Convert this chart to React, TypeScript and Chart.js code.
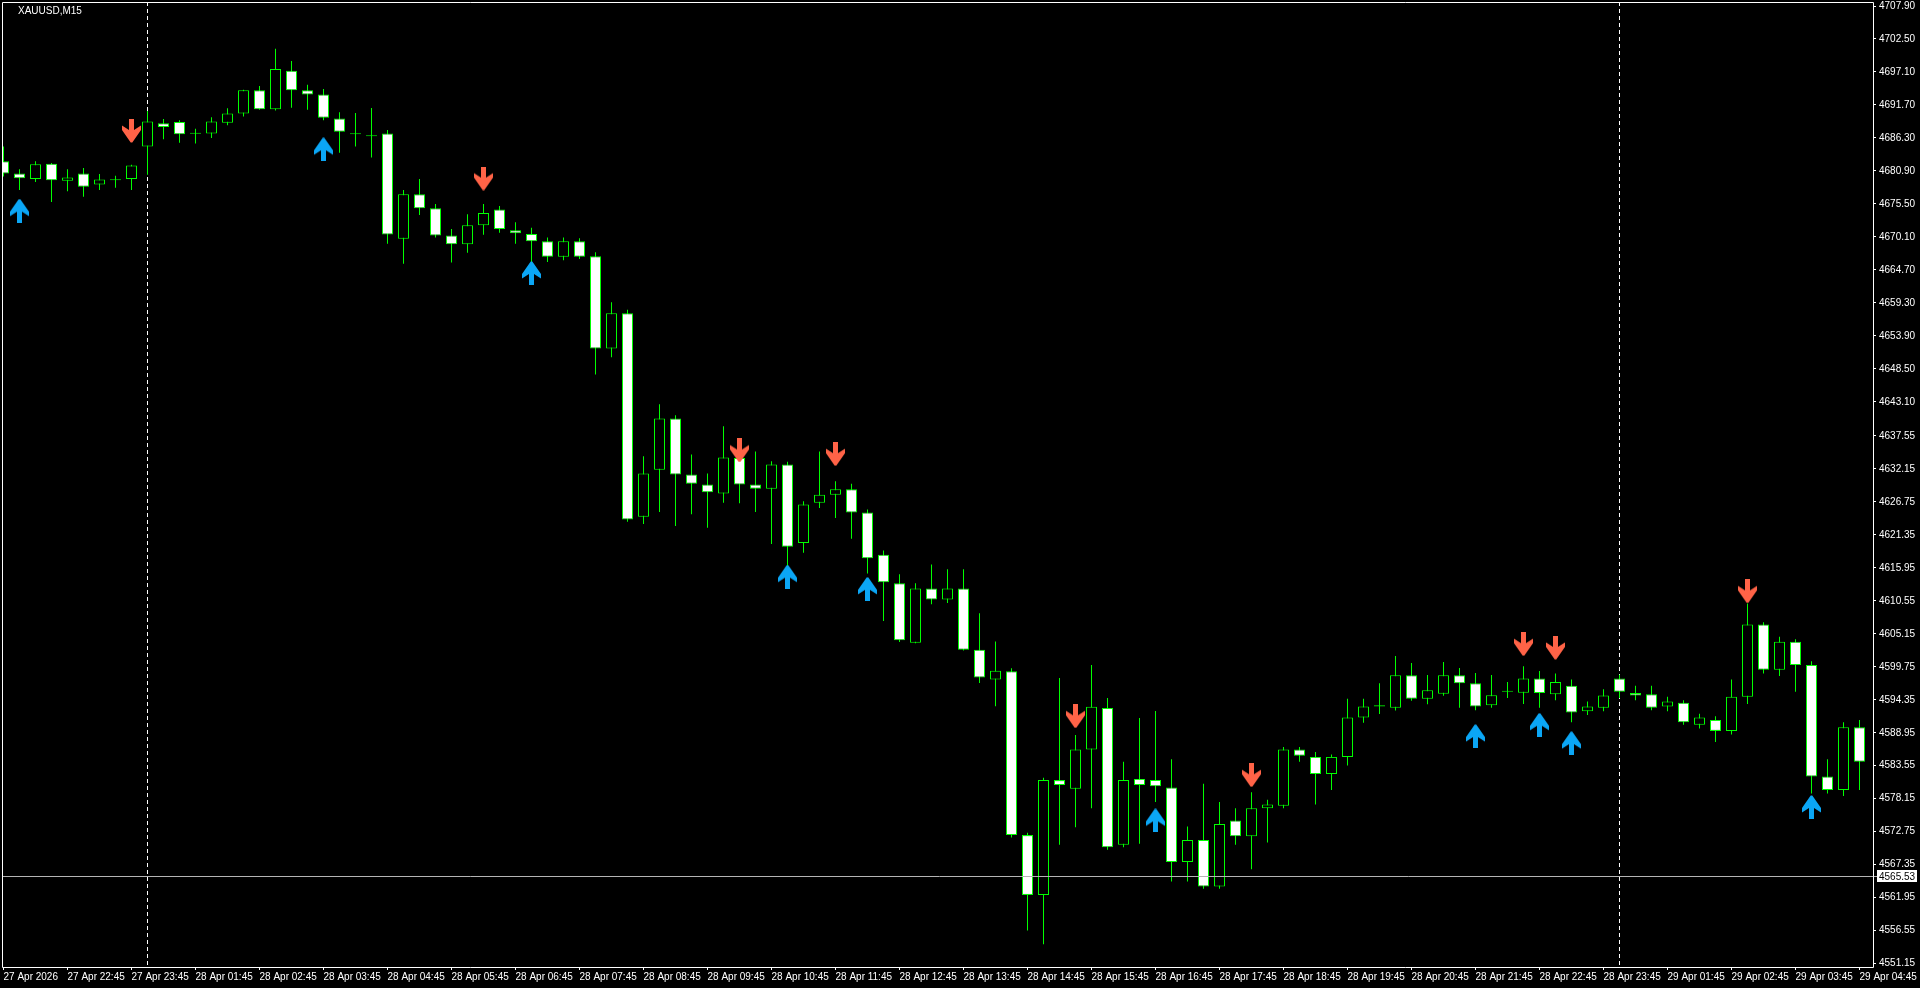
import React, { useEffect, useRef } from 'react';
import { Chart, registerables } from 'chart.js';

Chart.register(...registerables);

const symbolTitle = 'XAUUSD,M15';

// OHLC per 15-minute bar (bar index 0 = 27 Apr 21:45 ... 116 = 29 Apr 04:45)
const opens = [
  4682.5, 4680.5, 4679.6, 4682.1, 4679.3, 4680.5, 4678.7, 4679.4, 4679.6, 4684.9,
  4688.7, 4688.9, 4687.0, 4687.05, 4688.8, 4690.3, 4694.1, 4691.0, 4697.3, 4694.1,
  4693.4, 4689.5, 4686.9, 4686.6, 4687.05, 4669.8, 4677.1, 4674.8, 4670.35, 4668.9,
  4672.0, 4674.6, 4671.2, 4670.6, 4669.4, 4666.85, 4669.4, 4666.95, 4651.85, 4657.6,
  4624.3, 4632.0, 4640.4, 4631.2, 4629.6, 4628.1, 4633.9, 4629.6, 4628.9, 4632.85,
  4620.0, 4626.6, 4627.9, 4628.8, 4625.0, 4618.1, 4613.4, 4603.7, 4612.55, 4610.75,
  4612.55, 4602.55, 4597.65, 4599.0, 4572.2, 4562.4, 4581.2, 4579.8, 4586.2, 4593.0,
  4570.6, 4581.4, 4581.2, 4580.0, 4567.8, 4571.4, 4563.8, 4574.6, 4572.0, 4576.6,
  4577.0, 4586.2, 4585.0, 4582.2, 4585.0, 4591.45, 4593.25, 4593.05, 4598.35, 4594.5,
  4595.35, 4598.35, 4597.05, 4593.45, 4595.65, 4595.5, 4597.85, 4595.25, 4596.65, 4592.45,
  4593.05, 4597.85, 4595.45, 4595.25, 4593.25, 4593.85, 4590.25, 4591.05, 4589.25, 4594.85,
  4606.65, 4599.25, 4603.85, 4600.05, 4581.8, 4579.6, 4589.85,
];

const highs = [
  4684.9, 4681.2, 4682.5, 4682.2, 4681.2, 4681.4, 4680.4, 4680.1, 4681.9, 4690.7,
  4689.4, 4689.2, 4687.8, 4689.7, 4691.15, 4694.2, 4694.8, 4700.9, 4698.9, 4695.0,
  4694.3, 4690.5, 4690.4, 4691.2, 4687.6, 4677.8, 4679.6, 4675.5, 4671.4, 4673.8,
  4675.5, 4675.15, 4672.5, 4671.6, 4670.0, 4670.0, 4669.9, 4667.6, 4659.4, 4658.2,
  4634.2, 4642.7, 4640.9, 4634.5, 4631.4, 4639.1, 4634.4, 4635.0, 4633.4, 4633.3,
  4626.85, 4635.0, 4630.1, 4629.7, 4625.5, 4618.8, 4614.9, 4613.4, 4616.5, 4615.7,
  4615.7, 4608.5, 4603.9, 4599.5, 4572.6, 4581.6, 4597.9, 4588.6, 4600.05, 4594.65,
  4584.2, 4591.35, 4592.5, 4584.6, 4573.6, 4580.6, 4577.6, 4576.6, 4579.2, 4578.0,
  4586.6, 4586.6, 4585.8, 4585.4, 4594.5, 4594.5, 4597.05, 4601.5, 4600.35, 4598.4,
  4600.55, 4599.55, 4598.75, 4598.4, 4597.25, 4599.85, 4599.05, 4598.65, 4597.65, 4594.05,
  4596.05, 4598.45, 4596.65, 4596.65, 4594.85, 4594.25, 4592.05, 4591.65, 4597.65, 4610.1,
  4607.05, 4604.65, 4604.25, 4600.65, 4584.6, 4590.65, 4591.05,
];

const lows = [
  4680.0, 4677.8, 4679.1, 4675.8, 4677.6, 4676.7, 4677.8, 4678.15, 4677.8, 4680.3,
  4686.1, 4685.5, 4685.4, 4686.3, 4688.4, 4689.8, 4690.9, 4690.8, 4691.25, 4690.9,
  4689.2, 4683.9, 4684.9, 4683.1, 4669.0, 4665.7, 4673.7, 4670.0, 4665.9, 4667.5,
  4670.45, 4670.8, 4669.0, 4665.9, 4666.0, 4666.3, 4666.5, 4647.6, 4650.4, 4623.5,
  4623.1, 4625.1, 4622.8, 4624.7, 4622.5, 4626.6, 4626.5, 4625.1, 4619.85, 4616.1,
  4618.4, 4625.75, 4624.1, 4620.7, 4615.0, 4607.25, 4603.8, 4603.6, 4610.0, 4610.2,
  4602.4, 4597.1, 4593.3, 4571.8, 4556.6, 4554.35, 4570.6, 4573.5, 4576.6, 4569.8,
  4570.2, 4570.8, 4577.6, 4564.6, 4564.6, 4563.4, 4563.4, 4570.6, 4566.6, 4571.0,
  4576.6, 4584.2, 4577.2, 4579.6, 4583.6, 4590.6, 4592.0, 4592.6, 4594.2, 4593.6,
  4595.0, 4593.05, 4592.65, 4593.05, 4594.65, 4593.65, 4593.05, 4594.25, 4590.65, 4591.85,
  4592.45, 4594.65, 4594.25, 4592.65, 4592.45, 4590.25, 4589.65, 4587.45, 4588.65, 4593.65,
  4598.65, 4598.25, 4595.65, 4579.0, 4579.0, 4578.6, 4579.6,
];

const closes = [
  4680.5, 4679.7, 4682.0, 4679.4, 4679.85, 4678.3, 4679.5, 4679.5, 4681.8, 4689.0,
  4688.1, 4686.9, 4687.1, 4689.0, 4690.3, 4694.1, 4691.0, 4697.6, 4694.1, 4693.4,
  4689.6, 4687.3, 4686.95, 4686.75, 4670.5, 4677.1, 4674.8, 4670.35, 4668.9, 4672.0,
  4674.0, 4671.4, 4670.7, 4669.4, 4666.85, 4669.4, 4666.85, 4651.85, 4657.6, 4623.85,
  4631.4, 4640.4, 4631.2, 4629.7, 4628.3, 4634.0, 4629.6, 4628.9, 4632.85, 4619.4,
  4626.3, 4627.9, 4628.8, 4625.0, 4617.5, 4613.6, 4604.1, 4612.55, 4610.75, 4612.55,
  4602.55, 4598.0, 4599.1, 4572.2, 4562.4, 4581.2, 4580.4, 4586.2, 4593.2, 4570.2,
  4581.2, 4580.4, 4580.2, 4567.8, 4571.4, 4563.8, 4574.0, 4572.0, 4576.6, 4577.2,
  4586.2, 4585.2, 4582.2, 4585.0, 4591.45, 4593.25, 4593.45, 4598.35, 4594.5, 4595.9,
  4598.35, 4597.05, 4593.25, 4595.1, 4595.7, 4597.85, 4595.45, 4597.25, 4592.25, 4593.25,
  4595.05, 4595.65, 4595.05, 4593.05, 4594.05, 4590.65, 4591.45, 4589.25, 4594.85, 4606.65,
  4599.25, 4603.85, 4600.05, 4581.8, 4579.6, 4589.85, 4584.2,
];

// Time axis labels (bar index -> text)
const timeTickIdx = [
  0, 4, 8, 12, 16, 20, 24, 28, 32, 36, 40, 44, 48, 52, 56, 60, 64, 68, 72, 76,
  80, 84, 88, 92, 96, 100, 104, 108, 112, 116,
];
const timeTickLabels = [
  '27 Apr 2026', '27 Apr 22:45', '27 Apr 23:45', '28 Apr 01:45', '28 Apr 02:45',
  '28 Apr 03:45', '28 Apr 04:45', '28 Apr 05:45', '28 Apr 06:45', '28 Apr 07:45',
  '28 Apr 08:45', '28 Apr 09:45', '28 Apr 10:45', '28 Apr 11:45', '28 Apr 12:45',
  '28 Apr 13:45', '28 Apr 14:45', '28 Apr 15:45', '28 Apr 16:45', '28 Apr 17:45',
  '28 Apr 18:45', '28 Apr 19:45', '28 Apr 20:45', '28 Apr 21:45', '28 Apr 22:45',
  '28 Apr 23:45', '29 Apr 01:45', '29 Apr 02:45', '29 Apr 03:45', '29 Apr 04:45',
];

// Price axis labels
const priceTicks = [
  4707.9, 4702.5, 4697.1, 4691.7, 4686.3, 4680.9, 4675.5, 4670.1, 4664.7, 4659.3,
  4653.9, 4648.5, 4643.1, 4637.55, 4632.15, 4626.75, 4621.35, 4615.95, 4610.55, 4605.15,
  4599.75, 4594.35, 4588.95, 4583.55, 4578.15, 4572.75, 4567.35, 4561.95, 4556.55, 4551.15,
];

// Signal arrows
const upArrowIdx = [1, 20, 33, 49, 54, 72, 92, 96, 98, 113];
const upArrowPrice = [4674.4, 4684.45, 4664.2, 4614.5, 4612.5, 4574.6, 4588.4, 4590.25, 4587.25, 4576.8];
const downArrowIdx = [8, 30, 46, 52, 67, 78, 95, 97, 109];
const downArrowPrice = [4687.45, 4679.65, 4635.15, 4634.55, 4591.65, 4582.0, 4603.45, 4602.85, 4612.1];

// Day separators (first bar of a new day) and horizontal price line
const daySeparatorIdx = [9, 101];
const markerLinePrice = 4565.53;

const FONT = "'Liberation Sans', Arial, sans-serif";
const GREEN = '#00ff00';

function makeArrow(color: string, up: boolean): HTMLCanvasElement {
  const c = document.createElement('canvas');
  c.width = 19;
  c.height = 24;
  const g = c.getContext('2d') as CanvasRenderingContext2D;
  const pts = [
    [7, 0], [12, 0], [12, 11], [19, 6.5], [19, 11], [10.3, 23.5],
    [8.7, 23.5], [0, 11], [0, 6.5], [7, 11],
  ];
  g.fillStyle = color;
  g.beginPath();
  pts.forEach(([px, py], i) => {
    const yy = up ? 24 - py : py;
    if (i === 0) g.moveTo(px, yy);
    else g.lineTo(px, yy);
  });
  g.closePath();
  g.fill();
  return c;
}

export default function App() {
  const canvasRef = useRef<HTMLCanvasElement | null>(null);

  useEffect(() => {
    const canvas = canvasRef.current;
    if (!canvas) return;

    const upImg = makeArrow('#0ba6f5', true);
    const downImg = makeArrow('#ff6347', false);

    const bodies = opens.map((o, i) => ({ x: i, y: [o, closes[i]] }));
    const bodyColors = opens.map((o, i) => (closes[i] > o ? '#000000' : '#ffffff'));
    const wicks = lows.map((l, i) => ({ x: i, y: [l, highs[i]] }));
    const ups = upArrowIdx.map((k, i) => ({ x: k, y: upArrowPrice[i] }));
    const downs = downArrowIdx.map((k, i) => ({ x: k, y: downArrowPrice[i] }));

    const mt4Plugin = {
      id: 'mt4Overlay',
      beforeDraw(chart: any) {
        const { ctx, width, height } = chart;
        ctx.save();
        ctx.fillStyle = '#000000';
        ctx.fillRect(0, 0, width, height);
        ctx.restore();
      },
      beforeDatasetsDraw(chart: any) {
        const { ctx, chartArea, scales } = chart;
        const { left, right, top, bottom } = chartArea;
        ctx.save();
        ctx.beginPath();
        ctx.rect(left, top, right - left, bottom - top);
        ctx.clip();
        ctx.strokeStyle = '#ffffff';
        ctx.lineWidth = 1;
        ctx.setLineDash([4, 3]);
        daySeparatorIdx.forEach((k) => {
          const px = Math.round(scales.x.getPixelForValue(k) - 0.5) + 0.5;
          ctx.beginPath();
          ctx.moveTo(px, top);
          ctx.lineTo(px, bottom);
          ctx.stroke();
        });
        ctx.restore();
      },
      afterDatasetsDraw(chart: any) {
        const { ctx, chartArea, scales } = chart;
        const { left, right } = chartArea;
        const py = Math.round(scales.y.getPixelForValue(markerLinePrice)) + 0.5;
        ctx.save();
        ctx.strokeStyle = '#b4b4b4';
        ctx.lineWidth = 1;
        ctx.beginPath();
        ctx.moveTo(left, py);
        ctx.lineTo(right + 4, py);
        ctx.stroke();
        ctx.restore();
      },
      afterDraw(chart: any) {
        const { ctx, chartArea, scales } = chart;
        const { left, right, top, bottom } = chartArea;
        ctx.save();
        // frame
        ctx.strokeStyle = '#ffffff';
        ctx.lineWidth = 1;
        ctx.beginPath();
        ctx.moveTo(left + 0.5, top + 0.5);
        ctx.lineTo(right + 0.5, top + 0.5);
        ctx.lineTo(right + 0.5, bottom + 0.5);
        ctx.lineTo(left + 0.5, bottom + 0.5);
        ctx.closePath();
        ctx.stroke();
        // title
        ctx.fillStyle = '#ffffff';
        ctx.font = `10px ${FONT}`;
        ctx.textBaseline = 'middle';
        ctx.textAlign = 'left';
        ctx.fillText(symbolTitle, left + 16, top + 9);
        // price label box
        const py = Math.round(scales.y.getPixelForValue(markerLinePrice)) + 0.5;
        ctx.fillStyle = '#ffffff';
        ctx.fillRect(right + 4, Math.round(py - 6.5), 40, 12);
        ctx.fillStyle = '#000000';
        ctx.fillText(markerLinePrice.toFixed(2), right + 6, py + 0.5);
        ctx.restore();
      },
    };

    const chart = new Chart(canvas, {
      type: 'bar',
      data: {
        datasets: [
          {
            type: 'scatter',
            label: 'Buy',
            data: ups,
            pointStyle: upImg,
            pointRadius: 10,
            order: -2,
          } as any,
          {
            type: 'scatter',
            label: 'Sell',
            data: downs,
            pointStyle: downImg,
            pointRadius: 10,
            order: -1,
          } as any,
          {
            type: 'bar',
            label: 'Body',
            data: bodies,
            backgroundColor: bodyColors,
            borderColor: GREEN,
            borderWidth: 1,
            borderSkipped: false,
            barThickness: 11,
            grouped: false,
            inflateAmount: 0,
            minBarLength: 1,
            order: 1,
          } as any,
          {
            type: 'bar',
            label: 'Wick',
            data: wicks,
            backgroundColor: GREEN,
            borderWidth: 0,
            barThickness: 1,
            grouped: false,
            inflateAmount: 0,
            minBarLength: 1,
            order: 2,
          } as any,
        ],
      },
      options: {
        responsive: false,
        animation: false,
        devicePixelRatio: 1,
        events: [],
        layout: { autoPadding: false, padding: { left: 2, top: 2, right: 0, bottom: 0 } },
        plugins: {
          legend: { display: false },
          tooltip: { enabled: false },
        },
        scales: {
          x: {
            type: 'linear',
            position: 'bottom',
            min: (2 - 3.5) / 16,
            max: (1873 - 3.5) / 16,
            offset: false,
            afterBuildTicks: (axis: any) => {
              axis.ticks = timeTickIdx.map((v) => ({ value: v }));
            },
            afterFit: (axis: any) => {
              axis.height = 21;
              axis.paddingLeft = 0;
              axis.paddingRight = 0;
            },
            ticks: {
              autoSkip: false,
              maxRotation: 0,
              minRotation: 0,
              align: 'start',
              padding: 1,
              color: '#ffffff',
              font: { family: FONT, size: 10 },
              callback: (v: any) => {
                const i = timeTickIdx.indexOf(Number(v));
                return i >= 0 ? timeTickLabels[i] : '';
              },
            },
            grid: {
              display: true,
              offset: false,
              drawOnChartArea: false,
              drawTicks: true,
              tickLength: 3,
              color: '#ffffff',
            },
            border: { display: false },
          } as any,
          y: {
            type: 'linear',
            position: 'right',
            min: 4550.61,
            max: 4708.555,
            beginAtZero: false,
            afterBuildTicks: (axis: any) => {
              axis.ticks = priceTicks.map((v) => ({ value: v }));
            },
            afterFit: (axis: any) => {
              axis.width = 47;
              axis.paddingTop = 0;
              axis.paddingBottom = 0;
            },
            ticks: {
              autoSkip: false,
              padding: 3,
              color: '#ffffff',
              font: { family: FONT, size: 10 },
              callback: (v: any) => Number(v).toFixed(2),
            },
            grid: {
              display: true,
              drawOnChartArea: false,
              drawTicks: true,
              tickLength: 3,
              color: '#ffffff',
            },
            border: { display: false },
          } as any,
        },
      } as any,
      plugins: [mt4Plugin],
    });

    return () => {
      chart.destroy();
    };
  }, []);

  return (
    <div
      style={{
        position: 'fixed',
        left: 0,
        top: 0,
        width: 1920,
        height: 988,
        background: '#000000',
        overflow: 'hidden',
      }}
    >
      <canvas
        ref={canvasRef}
        width={1920}
        height={988}
        style={{ display: 'block', width: 1920, height: 988 }}
      />
    </div>
  );
}
